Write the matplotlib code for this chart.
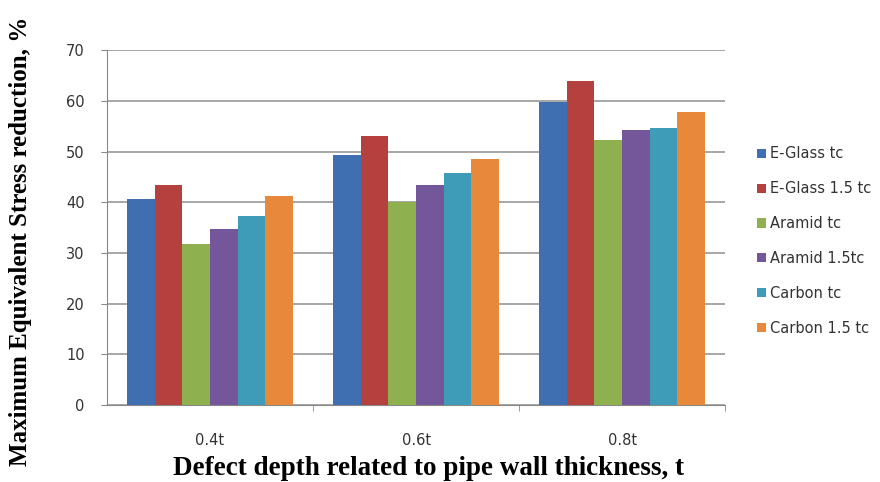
import matplotlib
matplotlib.use("Agg")
import matplotlib.pyplot as plt
import numpy as np

categories = ["0.4t", "0.6t", "0.8t"]
series_names = ["E-Glass tc", "E-Glass 1.5 tc", "Aramid tc", "Aramid 1.5tc", "Carbon tc", "Carbon 1.5 tc"]
eglass_tc = [40.6, 49.3, 59.8]
eglass_15tc = [43.3, 53.1, 64.0]
aramid_tc = [31.8, 40.0, 52.3]
aramid_15tc = [34.7, 43.3, 54.3]
carbon_tc = [37.3, 45.8, 54.6]
carbon_15tc = [41.3, 48.5, 57.7]
y_ticks = [0, 10, 20, 30, 40, 50, 60, 70]

colors = ["#3f6fb0", "#b5413e", "#8fb04f", "#74569a", "#3e9cb8", "#e8883a"]
values = [eglass_tc, eglass_15tc, aramid_tc, aramid_15tc, carbon_tc, carbon_15tc]

fig = plt.figure(figsize=(8.8, 4.82), dpi=100)
ax = fig.add_axes([0.1216, 0.1598, 0.7024, 0.7362])

x = np.arange(len(categories))
n = len(values)
w = 0.806 / n
for i, (name, vals, c) in enumerate(zip(series_names, values, colors)):
    ax.bar(x - 0.403 + w * (i + 0.5), vals, width=w, color=c, label=name, zorder=3)

ax.set_xlim(-0.5, 2.5)
ax.set_ylim(0, 70)
ax.set_yticks(y_ticks)
ax.set_xticks(x)
ax.set_xticklabels(categories, fontsize=10.5)
ax.set_xticks([0.5, 1.5, 2.5], minor=True)
ax.tick_params(axis="x", which="major", length=0, pad=20)
ax.tick_params(axis="x", which="minor", length=4, color="#888888")
ax.tick_params(axis="y", length=4, color="#888888", labelsize=10.5, pad=12)
for lab in ax.get_yticklabels() + ax.get_xticklabels():
    lab.set_color("#333333")
ax.grid(axis="y", color="#a0a0a0", lw=1.3, zorder=0)
for s in ["top", "right"]:
    ax.spines[s].set_visible(False)
ax.spines["left"].set_color("#888888")
ax.spines["bottom"].set_color("#888888")

leg = ax.legend(loc="upper left", bbox_to_anchor=(1.042, 0.745), frameon=False,
                fontsize=10.5, handlelength=0.6, handleheight=0.6, handletextpad=0.3,
                labelspacing=1.36, borderaxespad=0)
for t in leg.get_texts():
    t.set_color("#333333")

fig.text(0.023, 0.5, "Maximum Equivalent Stress reduction, %", rotation=90,
         ha="center", va="center", family="Liberation Serif", weight="bold", fontsize=18)
fig.text(0.487, 0.028, "Defect depth related to pipe wall thickness, t",
         ha="center", va="center", family="Liberation Serif", weight="bold", fontsize=19.5)

fig.savefig("out.png", dpi=100)
